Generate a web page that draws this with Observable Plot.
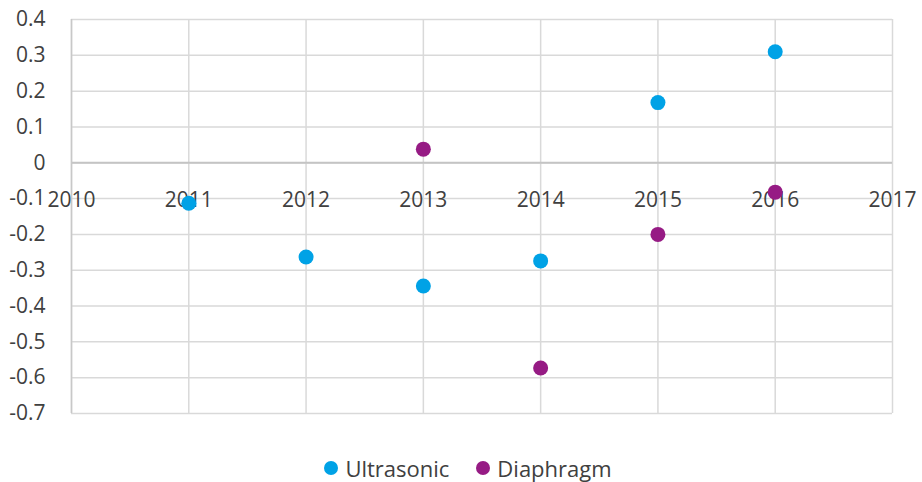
<!DOCTYPE html>
<html>
<head>
<meta charset="utf-8">
<script src="https://cdn.jsdelivr.net/npm/d3@7"></script>
<script src="https://cdn.jsdelivr.net/npm/@observablehq/plot@0.6"></script>
<style>
  html, body { margin: 0; padding: 0; background: #fff; }
  body { width: 922px; height: 482px; overflow: hidden; font-family: "Open Sans", "Noto Sans", sans-serif; }
  #legend { display: flex; justify-content: center; align-items: center; gap: 27px; margin-top: 14px; font-size: 22px; color: #404040; padding-left: 14px; line-height: 28px; }
  #legend .item { display: flex; align-items: center; gap: 7px; }
  #legend .dot { width: 14px; height: 14px; border-radius: 50%; display: inline-block; }
</style>
</head>
<body>
<div id="chart"></div>
<div id="legend"></div>
<script>
const seriesNames = ["Ultrasonic", "Diaphragm"];
const seriesColors = ["#00a2e6", "#961b84"];
const ultrasonicYears = [2011, 2012, 2013, 2014, 2015, 2016];
const ultrasonicValues = [-0.113, -0.263, -0.344, -0.274, 0.168, 0.31];
const diaphragmYears = [2013, 2014, 2015, 2016];
const diaphragmValues = [0.038, -0.573, -0.2, -0.082];
const xTicks = [2010, 2011, 2012, 2013, 2014, 2015, 2016, 2017];
const yTicks = [-0.7, -0.6, -0.5, -0.4, -0.3, -0.2, -0.1, 0, 0.1, 0.2, 0.3, 0.4];

const data = [
  ...ultrasonicYears.map((x, i) => ({x, y: ultrasonicValues[i], s: seriesNames[0]})),
  ...diaphragmYears.map((x, i) => ({x, y: diaphragmValues[i], s: seriesNames[1]}))
];

const fmt = d => d === 0 ? "0" : String(+d.toFixed(1));

const chart = Plot.plot({
  width: 922,
  height: 440,
  marginTop: 19,
  marginBottom: 27,
  marginLeft: 71,
  marginRight: 30,
  style: {fontFamily: "'Open Sans', 'Noto Sans', sans-serif", fontSize: "21px", color: "#404040", background: "#fff", overflow: "visible"},
  x: {domain: [2010, 2017], axis: null},
  y: {domain: [-0.7, 0.4], axis: null},
  color: {domain: seriesNames, range: seriesColors},
  marks: [
    Plot.gridY(yTicks, {stroke: "#d9d9d9", strokeOpacity: 1, strokeWidth: 1.5}),
    Plot.gridX(xTicks, {stroke: "#d9d9d9", strokeOpacity: 1, strokeWidth: 1.5}),
    Plot.ruleY([0], {stroke: "#c4c4c4", strokeWidth: 1.8}),
    Plot.ruleX([2010], {stroke: "#c8c8c8", strokeWidth: 1.5}),
    Plot.axisY(yTicks, {tickSize: 0, tickPadding: 26, tickFormat: fmt, fontSize: 21, fill: "#404040", label: null}),
    Plot.text(xTicks, {x: d => d, y: 0, dy: 37, text: d => String(d), fontSize: 21, fill: "#404040", textAnchor: "middle"}),
    Plot.dot(data, {x: "x", y: "y", fill: "s", r: 7.5, stroke: null})
  ]
});
document.getElementById("chart").appendChild(chart);

const legend = document.getElementById("legend");
seriesNames.forEach((n, i) => {
  const it = document.createElement("span");
  it.className = "item";
  it.innerHTML = `<span class="dot" style="background:${seriesColors[i]}"></span><span>${n}</span>`;
  legend.appendChild(it);
});
</script>
</body>
</html>
